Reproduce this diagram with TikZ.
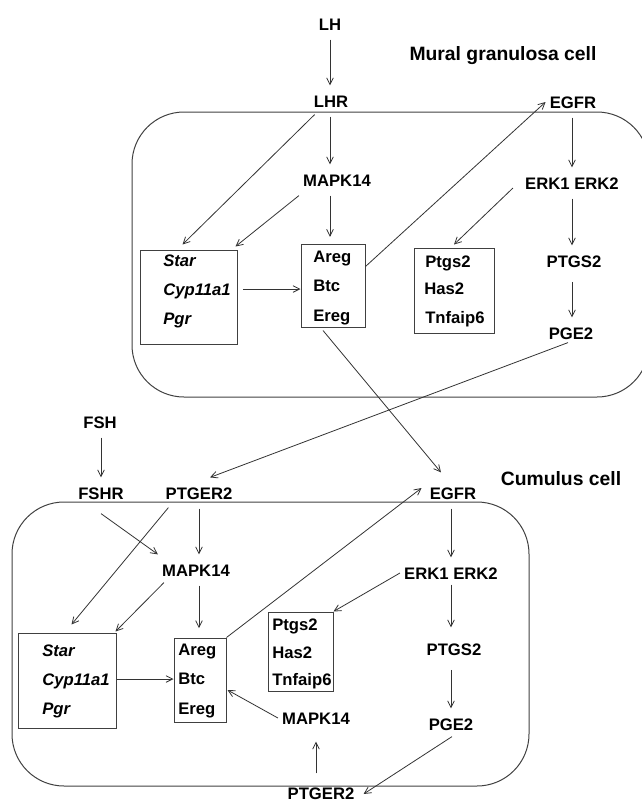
\documentclass[tikz,border=0pt]{standalone}
\usepackage{fontspec}
\setmainfont{Liberation Sans}
\usetikzlibrary{arrows.meta,fit,calc}

\begin{document}
\begin{tikzpicture}[x=0.75pt,y=-0.75pt,
  lbl/.style={font=\bfseries\fontsize{12.5}{15}\selectfont, text height=9pt, text depth=0pt, inner xsep=3pt, inner ysep=7pt},
  gene/.style={lbl, anchor=west, inner xsep=0pt},
  igene/.style={gene, font=\bfseries\itshape\fontsize{12.5}{15}\selectfont},
  celltitle/.style={font=\bfseries\fontsize{14.5}{17}\selectfont, text height=10.5pt, text depth=0pt},
  genebox/.style={draw=black!75, line width=0.75pt, inner sep=0pt},
  cell/.style={draw=black!75, line width=0.75pt, rounded corners=39pt, inner sep=0pt},
  arr/.style={draw=black!80, line width=0.6pt, -{Straight Barb[length=5pt,width=5pt]}},
]
\useasboundingbox (0,0) rectangle (642,801);
\clip (0,0) rectangle (642,801);

% ---------------- mural granulosa cell ----------------
\node[cell, fit={(132,112) (649,397)}] (mural) {};
\node[celltitle] (titleA) at (503,53) {Mural granulosa cell};

\node[lbl] (lh)    at (330,24)  {LH};
\node[lbl] (lhr)   at (331,101) {LHR};
\node[lbl] (mapkA) at (337,180) {MAPK14};
\node[lbl] (egfrA) at (573,102) {EGFR};
\node[lbl] (erkA)  at (572,183) {ERK1 ERK2};
\node[lbl] (ptgsA) at (574,261) {PTGS2};
\node[lbl] (pgeA)  at (571,333) {PGE2};

\node[genebox, fit={(140,250) (237,344)}] (starboxA) {};
\node[igene] (starA) at (163,260) {Star};
\node[igene] (cypA)  at (163,289) {Cyp11a1};
\node[igene] (pgrA)  at (163,318) {Pgr};

\node[genebox, fit={(301,244) (365,327)}] (aregboxA) {};
\node[gene] (aregA) at (313,256) {Areg};
\node[gene] (btcA)  at (313,285) {Btc};
\node[gene] (eregA) at (313,315) {Ereg};

\node[genebox, fit={(414,248) (494,333)}] (ptgsboxA) {};
\node[gene] (ptgs2A) at (425,261) {Ptgs2};
\node[gene] (has2A)  at (424,288) {Has2};
\node[gene] (tnfA)   at (425,317) {Tnfaip6};

% ---------------- cumulus cell ----------------
\node[cell, fit={(12,502) (529,786)}] (cumulus) {};
\node[celltitle] (titleB) at (561,478) {Cumulus cell};

\node[lbl] (fsh)     at (100,422) {FSH};
\node[lbl] (fshr)    at (101,493) {FSHR};
\node[lbl] (ptgerB)  at (199,493) {PTGER2};
\node[lbl] (mapkB)   at (196,570) {MAPK14};
\node[lbl] (egfrB)   at (453,493) {EGFR};
\node[lbl] (erkB)    at (451,573) {ERK1 ERK2};
\node[lbl] (ptgsB)   at (454,649) {PTGS2};
\node[lbl] (pgeB)    at (451,724) {PGE2};
\node[lbl] (ptgerC)  at (321,793) {PTGER2};
\node[lbl] (mapkC)   at (316,718) {MAPK14};

\node[genebox, fit={(18,633) (116,728)}] (starboxB) {};
\node[igene] (starB) at (42,650) {Star};
\node[igene] (cypB)  at (42,679) {Cyp11a1};
\node[igene] (pgrB)  at (42,708) {Pgr};

\node[genebox, fit={(174,638) (226,722)}] (aregboxB) {};
\node[gene] (aregB) at (178,649) {Areg};
\node[gene] (btcB)  at (178,678) {Btc};
\node[gene] (eregB) at (178,708) {Ereg};

\node[genebox, fit={(268,612) (333,691)}] (ptgsboxB) {};
\node[gene] (ptgs2B) at (272,624) {Ptgs2};
\node[gene] (has2B)  at (272,652) {Has2};
\node[gene] (tnfB)   at (272,679) {Tnfaip6};

% ---------------- connectors, mural cell ----------------
\draw[arr] (lh.south) -- (lh.south |- lhr.north);
\draw[arr] (lh.south |- lhr.south) -- (lh.south |- mapkA.north);
\draw[arr] ([shift={(5,-2)}]lhr.south west) -- ([shift={(43,-5)}]starboxA.north west);
\draw[arr] (mapkA.south west) -- ([shift={(-2,-3)}]starboxA.north east);
\draw[arr, shorten >=5pt] (lh.south |- mapkA.south) -- (lh.south |- aregboxA.north);
\draw[arr, shorten <=4pt] (starboxA.east |- cypA) -- (aregboxA.west |- cypA);
\draw[arr] ([shift={(0,23)}]aregboxA.north east) -- (egfrA.west);
\draw[arr] ([shift={(-10,3)}]aregboxA.south) -- ([shift={(-12,-5)}]egfrB.north);
\draw[arr] (egfrA.south -| erkA) -- (erkA.north);
\draw[arr] ([shift={(-8,5)}]erkA.west) -- ([shift={(0,-3)}]ptgsboxA.north);
\draw[arr] (erkA.south) -- (erkA.south |- ptgsA.north);
\draw[arr, shorten <=4pt] (erkA.south |- ptgsA.south) -- (erkA.south |- pgeA.north);
\draw[arr] ([shift={(-3,-6)}]pgeA.south) -- ([shift={(11,0)}]ptgerB.north);

% ---------------- connectors, cumulus cell ----------------
\draw[arr] (fsh.south -| fshr) -- (fshr.north);
\draw[arr] ([shift={(0,5)}]fshr.south) -- (mapkB.north west);
\draw[arr] (ptgerB.south) -- (ptgerB.south |- mapkB.north);
\draw[arr] ([shift={(7,-1)}]ptgerB.south west) -- ([shift={(54,-8)}]starboxB.north west);
\draw[arr] ([shift={(6,-3)}]mapkB.south west) -- ([shift={(-1,-1)}]starboxB.north east);
\draw[arr, shorten >=7pt] (mapkB.south -| ptgerB.south) -- (ptgerB.south |- aregboxB.north);
\draw[arr] (starboxB.east |- cypB) -- (aregboxB.west |- cypB);
\draw[arr] (aregboxB.north east) -- ([shift={(-4,-5)}]egfrB.west);
\draw[arr] (egfrB.south -| erkB) -- (erkB.north);
\draw[arr] (erkB.west) -- (ptgsboxB.north east);
\draw[arr] ([shift={(0,-4)}]erkB.south) -- ([shift={(0,-6)}]erkB.south |- ptgsB.north);
\draw[arr, shorten <=4pt] (erkB.south |- ptgsB.south) -- (erkB.south |- pgeB.north);
\draw[arr] ([shift={(1,-3)}]pgeB.south) -- ([shift={(5,1)}]ptgerC.east);
\draw[arr, shorten <=3pt, shorten >=6pt] (ptgerC.north -| mapkC) -- (mapkC.south);
\draw[arr] (mapkC.west) -- ([shift={(1,10)}]aregboxB.east);
\end{tikzpicture}
\end{document}
